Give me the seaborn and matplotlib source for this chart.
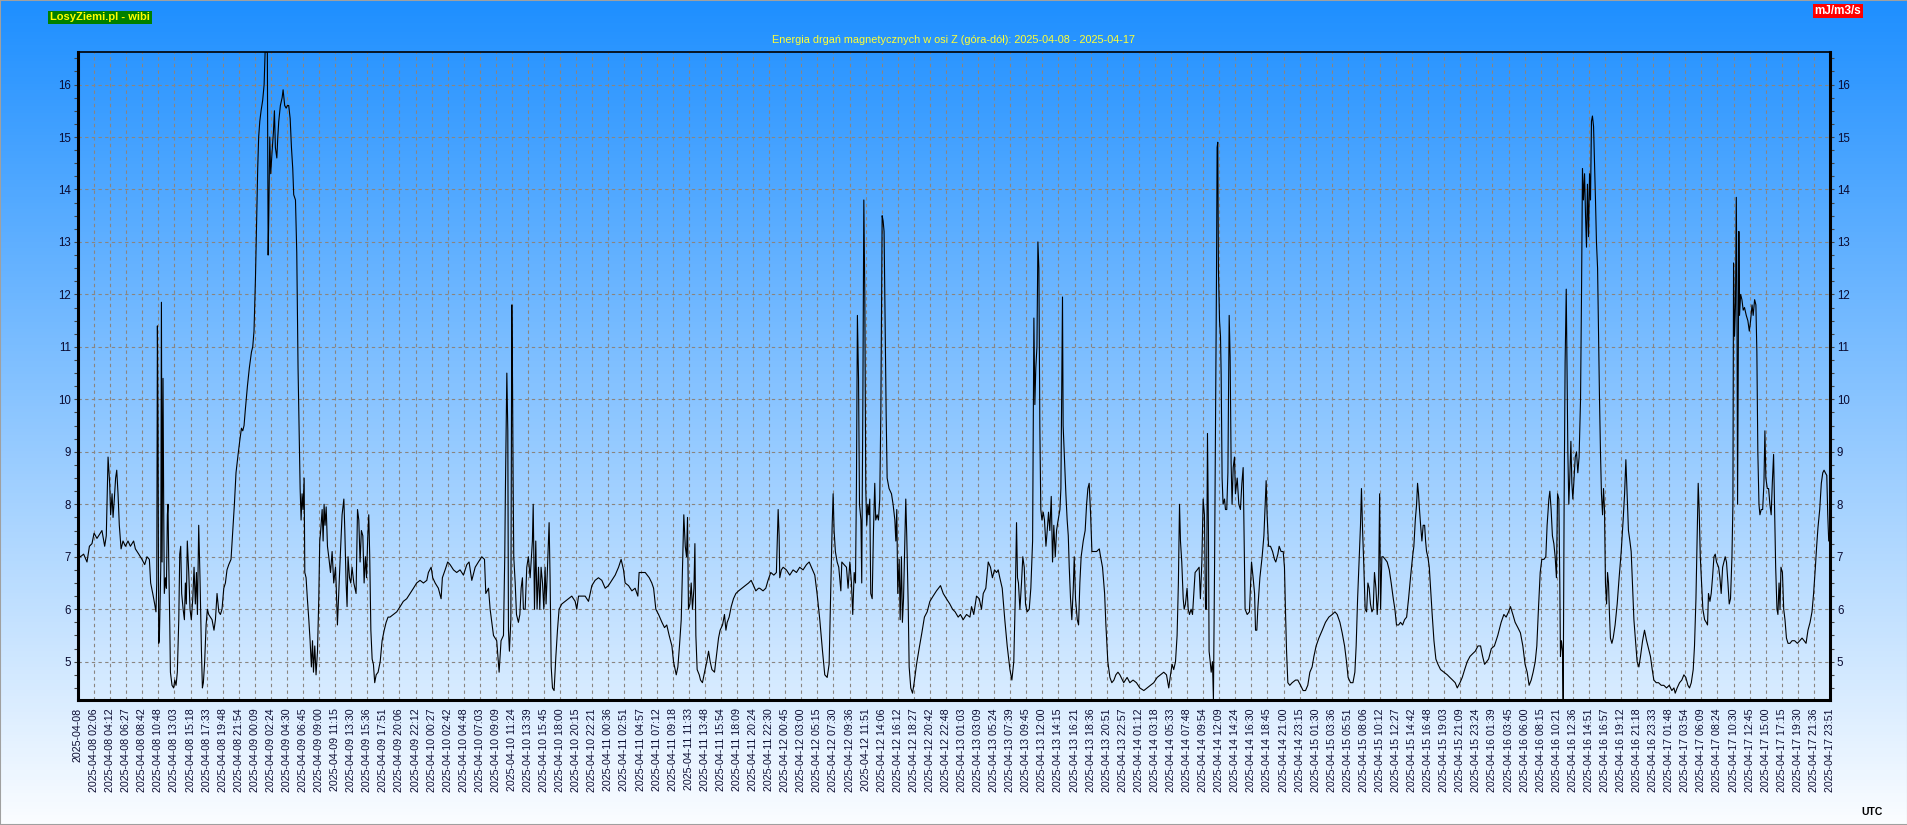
import numpy as np
import pandas as pd
import seaborn as sns
import matplotlib
matplotlib.use("Agg")
import matplotlib.pyplot as plt
from matplotlib.ticker import MultipleLocator
from matplotlib.colors import LinearSegmentedColormap
from matplotlib.patches import Rectangle

# x = position in label slots (one slot = one date label on the axis), y = energy [mJ/m3/s]
apr08_09 = [
    (0, 7.05), (0.15, 7.0), (0.35, 7.05), (0.56, 6.9), (0.71, 7.2), (0.87, 7.25), (1.0, 7.45), (1.18, 7.35),
    (1.39, 7.45), (1.49, 7.5), (1.66, 7.2), (1.76, 7.4), (1.87, 8.9), (1.97, 8.4), (2.03, 7.8), (2.12, 8.2),
    (2.18, 7.75), (2.26, 8.1), (2.34, 8.5), (2.41, 8.65), (2.49, 8.2), (2.57, 7.6), (2.68, 7.15), (2.80, 7.3),
    (2.95, 7.2), (3.11, 7.3), (3.26, 7.2), (3.46, 7.3), (3.57, 7.15), (3.78, 7.05), (3.98, 6.95), (4.15, 6.85),
    (4.29, 7.0), (4.44, 6.95), (4.52, 6.5), (4.65, 6.3), (4.77, 6.1), (4.85, 5.95), (4.90, 6.5), (4.94, 11.4),
    (4.98, 9.4), (5.02, 5.35), (5.06, 5.4), (5.15, 6.8), (5.19, 11.85), (5.23, 6.9), (5.29, 10.4), (5.33, 8.0),
    (5.37, 6.3), (5.44, 6.6), (5.50, 6.4), (5.56, 7.8), (5.60, 8.0), (5.64, 7.0), (5.71, 5.7), (5.75, 4.8),
    (5.85, 4.55), (5.95, 4.5), (6.02, 4.65), (6.10, 4.55), (6.18, 4.8), (6.27, 5.8), (6.33, 7.05), (6.39, 7.2),
    (6.45, 6.3), (6.54, 6.0), (6.62, 5.8), (6.68, 6.5), (6.74, 6.1), (6.80, 7.3), (6.89, 6.7), (6.97, 6.0),
    (7.05, 5.8), (7.14, 6.2), (7.22, 6.8), (7.30, 6.1), (7.37, 6.7), (7.43, 5.9), (7.51, 7.6), (7.59, 6.6),
    (7.68, 5.2), (7.74, 4.5), (7.80, 4.6), (7.88, 5.0), (7.97, 5.7), (8.05, 6.0), (8.13, 5.9), (8.34, 5.8),
    (8.46, 5.6), (8.55, 5.8), (8.65, 6.3), (8.76, 5.95), (8.86, 5.9), (8.96, 6.0), (9.07, 6.4), (9.17, 6.5),
    (9.27, 6.75), (9.38, 6.85), (9.52, 6.95), (9.63, 7.5), (9.73, 8.0), (9.83, 8.6), (9.96, 8.95), (10.08, 9.25),
    (10.17, 9.45), (10.25, 9.4), (10.33, 9.5), (10.41, 9.8), (10.54, 10.25), (10.66, 10.6), (10.79, 10.9),
    (10.87, 11.0), (10.95, 11.3), (11.04, 12.3), (11.12, 13.5), (11.18, 14.4), (11.24, 15.0), (11.31, 15.3),
    (11.39, 15.5), (11.49, 15.7), (11.58, 16.0), (11.64, 16.62), (11.72, 16.62), (11.78, 16.62), (11.83, 12.75),
    (11.87, 13.5), (11.93, 15.0), (11.99, 14.3), (12.07, 14.7), (12.16, 15.1), (12.22, 15.5), (12.28, 14.8),
    (12.37, 14.6), (12.43, 15.0), (12.49, 15.3), (12.59, 15.6), (12.70, 15.75), (12.76, 15.9), (12.86, 15.6),
    (12.95, 15.55), (13.03, 15.6), (13.11, 15.6), (13.20, 15.35), (13.28, 14.8), (13.36, 14.4), (13.42, 13.9),
    (13.53, 13.8), (13.61, 12.8), (13.65, 11.7), (13.69, 10.6), (13.76, 9.4), (13.82, 8.3), (13.88, 7.7),
    (13.94, 8.2), (14.00, 7.9), (14.07, 8.5), (14.11, 6.7), (14.19, 6.6), (14.27, 6.2), (14.36, 5.8),
    (14.44, 5.4), (14.52, 4.9), (14.59, 5.4), (14.65, 4.8), (14.73, 5.3), (14.81, 4.75), (14.90, 5.2),
    (14.98, 6.2), (15.04, 7.3), (15.10, 7.5), (15.19, 7.9), (15.25, 7.3), (15.31, 8.0), (15.37, 7.6),
    (15.44, 7.95), (15.52, 7.2), (15.60, 7.0), (15.71, 6.7), (15.81, 7.1), (15.91, 6.5), (16.02, 6.8),
    (16.08, 6.3), (16.14, 5.7), (16.22, 6.3), (16.33, 7.1), (16.43, 7.8), (16.54, 8.1), (16.60, 7.5),
    (16.68, 6.5), (16.74, 6.05), (16.80, 7.0), (16.89, 6.6), (16.97, 6.5), (17.05, 6.8), (17.16, 6.5),
    (17.30, 6.3), (17.39, 7.9), (17.47, 7.7), (17.55, 6.9), (17.63, 7.5), (17.72, 7.4), (17.80, 6.5),
    (17.88, 7.0), (17.95, 6.6), (18.03, 7.4), (18.09, 7.8), (18.15, 7.0), (18.22, 5.6), (18.30, 5.05),
    (18.38, 4.95), (18.46, 4.6), (18.55, 4.75), (18.67, 4.8), (18.80, 5.0), (18.92, 5.4), (19.05, 5.6),
    (19.17, 5.75), (19.29, 5.85),
]

apr09_11 = [
    (19.41, 5.85), (19.62, 5.9), (19.83, 5.95), (20.04, 6.05), (20.24, 6.15), (20.45, 6.2), (20.66, 6.3),
    (20.87, 6.4), (21.07, 6.5), (21.28, 6.55), (21.49, 6.5), (21.70, 6.55), (21.80, 6.7), (21.97, 6.8),
    (22.07, 6.6), (22.22, 6.5), (22.42, 6.4), (22.59, 6.2), (22.67, 6.6), (22.84, 6.75), (23.00, 6.9),
    (23.15, 6.85), (23.36, 6.75), (23.56, 6.7), (23.77, 6.75), (23.98, 6.65), (24.19, 6.85), (24.33, 6.9),
    (24.50, 6.55), (24.71, 6.8), (24.91, 6.9), (25.12, 7.0), (25.29, 6.95), (25.37, 6.3), (25.54, 6.4),
    (25.64, 6.0), (25.85, 5.5), (26.05, 5.4), (26.20, 4.8), (26.32, 5.4), (26.47, 5.5), (26.55, 7.0),
    (26.59, 8.25), (26.68, 10.5), (26.74, 9.4), (26.78, 5.6), (26.84, 5.2), (26.93, 5.8), (26.99, 11.8),
    (27.03, 10.5), (27.07, 8.5), (27.11, 7.0), (27.20, 6.5), (27.28, 5.9), (27.40, 5.75), (27.49, 5.9),
    (27.57, 6.4), (27.65, 6.6), (27.71, 6.0), (27.82, 6.0), (27.92, 6.8), (28.02, 7.0), (28.13, 6.6),
    (28.27, 7.3), (28.32, 8.0), (28.40, 6.0), (28.48, 7.3), (28.56, 6.0), (28.65, 6.8), (28.73, 6.0),
    (28.81, 6.8), (28.90, 6.5), (28.98, 6.0), (29.06, 6.8), (29.12, 6.1), (29.21, 6.8), (29.31, 7.65),
    (29.37, 6.6), (29.44, 4.9), (29.52, 4.5), (29.62, 4.45), (29.73, 5.1), (29.83, 5.6), (29.93, 6.0),
    (30.10, 6.1), (30.31, 6.15), (30.51, 6.2), (30.72, 6.25), (30.93, 6.15), (31.03, 6.0), (31.14, 6.25),
    (31.34, 6.25), (31.55, 6.25), (31.76, 6.15), (31.97, 6.45), (32.17, 6.55), (32.38, 6.6), (32.59, 6.55),
    (32.80, 6.4), (33.00, 6.45), (33.21, 6.55), (33.42, 6.65), (33.63, 6.8), (33.79, 6.95), (33.94, 6.75),
    (34.04, 6.5), (34.25, 6.45), (34.46, 6.35), (34.66, 6.4), (34.83, 6.25), (34.91, 6.7), (35.08, 6.7),
    (35.29, 6.7), (35.54, 6.6), (35.70, 6.5), (35.81, 6.4), (35.95, 6.0), (36.12, 5.9), (36.33, 5.75),
    (36.49, 5.65), (36.63, 5.7), (36.78, 5.5), (36.95, 5.3), (37.05, 5.0), (37.22, 4.75), (37.32, 4.9),
    (37.42, 5.3), (37.53, 5.8), (37.61, 6.8), (37.69, 7.8), (37.78, 7.2), (37.86, 7.0), (37.92, 7.75),
    (37.98, 6.0), (38.07, 6.1), (38.15, 6.5), (38.23, 6.0), (38.32, 6.4), (38.38, 7.25), (38.44, 5.5),
    (38.52, 4.85), (38.65, 4.75), (38.73, 4.65), (38.85, 4.6), (38.98, 4.8), (39.12, 5.0), (39.23, 5.2),
    (39.33, 5.0), (39.44, 4.85), (39.60, 4.8), (39.75, 5.2), (39.85, 5.45), (39.95, 5.6), (40.10, 5.7),
    (40.22, 5.9), (40.31, 5.6), (40.39, 5.75), (40.51, 5.85), (40.64, 6.05), (40.78, 6.2), (40.93, 6.3),
    (41.10, 6.35), (41.30, 6.4), (41.51, 6.45), (41.72, 6.5), (41.88, 6.55), (42.03, 6.45), (42.17, 6.35),
    (42.34, 6.4),
]

apr11_13 = [
    (42.41, 6.4), (42.62, 6.35), (42.79, 6.4), (42.93, 6.55), (43.10, 6.7), (43.29, 6.65), (43.45, 6.7),
    (43.56, 7.9), (43.62, 7.4), (43.66, 6.6), (43.76, 6.75), (43.87, 6.8), (44.07, 6.75), (44.28, 6.65),
    (44.49, 6.75), (44.70, 6.7), (44.90, 6.8), (45.11, 6.75), (45.32, 6.85), (45.49, 6.9), (45.63, 6.8),
    (45.84, 6.65), (45.98, 6.3), (46.15, 5.8), (46.32, 5.2), (46.46, 4.75), (46.61, 4.7), (46.73, 4.95),
    (46.83, 6.3), (46.92, 7.6), (46.98, 8.2), (47.04, 7.5), (47.12, 7.1), (47.23, 6.9), (47.33, 6.8),
    (47.46, 6.35), (47.52, 6.9), (47.66, 6.85), (47.81, 6.8), (47.91, 6.4), (48.02, 6.9), (48.12, 6.5),
    (48.20, 5.9), (48.29, 6.7), (48.37, 6.5), (48.43, 8.35), (48.49, 11.6), (48.56, 10.4), (48.62, 8.0),
    (48.71, 7.7), (48.76, 6.5), (48.83, 10.0), (48.89, 13.8), (48.95, 12.0), (49.01, 8.3), (49.07, 7.6),
    (49.14, 8.0), (49.20, 7.8), (49.26, 8.1), (49.32, 6.3), (49.41, 6.2), (49.49, 7.5), (49.57, 8.4),
    (49.63, 7.7), (49.72, 7.8), (49.80, 7.7), (49.88, 8.1), (49.95, 9.8), (50.03, 13.5), (50.09, 13.4),
    (50.15, 13.2), (50.22, 11.4), (50.28, 9.7), (50.34, 8.5), (50.46, 8.3), (50.61, 8.2), (50.71, 8.0),
    (50.82, 7.7), (50.88, 7.3), (50.94, 7.9), (51.00, 6.3), (51.09, 6.95), (51.15, 5.8), (51.23, 7.0),
    (51.29, 5.75), (51.36, 6.2), (51.50, 8.1), (51.56, 7.4), (51.65, 6.1), (51.71, 4.9), (51.81, 4.5),
    (51.92, 4.4), (52.02, 4.6), (52.17, 4.95), (52.33, 5.25), (52.50, 5.55), (52.66, 5.85), (52.83, 5.95),
    (53.00, 6.15), (53.20, 6.25), (53.41, 6.35), (53.66, 6.45), (53.83, 6.3), (54.03, 6.2), (54.24, 6.1),
    (54.41, 6.0), (54.57, 5.95), (54.76, 5.85), (54.90, 5.9), (55.07, 5.8), (55.28, 5.9), (55.49, 5.85),
    (55.59, 6.05), (55.73, 5.9), (55.90, 6.25), (56.07, 6.2), (56.21, 6.0), (56.32, 6.3), (56.48, 6.4),
    (56.63, 6.9), (56.77, 6.8), (56.89, 6.6), (57.02, 6.75), (57.15, 6.7), (57.25, 6.75), (57.35, 6.6),
    (57.50, 6.4), (57.66, 5.8), (57.81, 5.3), (57.98, 4.85), (58.10, 4.65), (58.22, 5.0), (58.31, 6.2),
    (58.39, 7.65), (58.45, 6.6), (58.51, 6.5), (58.60, 6.0), (58.70, 6.5), (58.78, 7.0), (58.87, 6.8),
    (58.95, 6.1), (59.05, 5.95), (59.18, 6.0), (59.28, 6.4), (59.39, 7.3), (59.47, 11.55), (59.53, 9.9),
    (59.59, 10.6), (59.66, 11.0), (59.72, 13.0), (59.78, 12.5), (59.84, 9.5), (59.90, 7.9), (59.97, 7.7),
    (60.05, 7.85), (60.13, 7.7), (60.22, 7.2), (60.30, 7.5), (60.38, 7.85), (60.46, 7.5), (60.55, 8.15),
    (60.63, 6.9), (60.71, 7.6), (60.80, 7.0), (60.88, 7.5), (60.98, 7.7), (61.09, 7.9), (61.15, 8.3),
    (61.25, 11.95), (61.29, 9.5), (61.38, 8.8), (61.46, 8.2), (61.54, 7.7), (61.61, 7.4), (61.67, 6.8),
    (61.75, 6.2), (61.83, 5.8), (61.92, 6.4), (61.98, 7.0), (62.06, 6.2), (62.17, 5.8), (62.25, 5.7),
    (62.33, 6.5), (62.41, 7.0), (62.54, 7.3), (62.66, 7.5), (62.75, 8.0), (62.83, 8.3), (62.91, 8.4),
    (63.00, 7.8), (63.08, 7.1), (63.20, 7.1), (63.37, 7.1), (63.54, 7.15), (63.62, 7.0), (63.74, 6.8),
    (63.87, 6.3), (63.95, 5.7), (64.07, 5.0), (64.20, 4.7), (64.32, 4.6), (64.45, 4.65), (64.57, 4.75),
    (64.70, 4.8), (64.82, 4.75),
]

apr13_16 = [
    (65.06, 4.6), (65.27, 4.7), (65.44, 4.6), (65.64, 4.65), (65.85, 4.6), (66.06, 4.5), (66.31, 4.45),
    (66.51, 4.5), (66.72, 4.55), (66.93, 4.6), (67.14, 4.7), (67.34, 4.75), (67.55, 4.8), (67.72, 4.75),
    (67.86, 4.5), (67.97, 4.75), (68.07, 4.95), (68.17, 4.85), (68.28, 5.0), (68.38, 5.5), (68.46, 6.5),
    (68.53, 8.0), (68.59, 7.3), (68.67, 6.9), (68.76, 6.2), (68.82, 6.0), (68.90, 6.1), (69.00, 6.4),
    (69.07, 6.0), (69.15, 5.9), (69.25, 6.0), (69.34, 5.9), (69.42, 6.3), (69.50, 6.7), (69.63, 6.75),
    (69.75, 6.8), (69.83, 6.2), (69.92, 6.9), (70.00, 8.1), (70.08, 7.8), (70.15, 6.0), (70.21, 6.0),
    (70.27, 9.35), (70.33, 7.5), (70.37, 5.2), (70.44, 5.0), (70.50, 4.8), (70.58, 5.0), (70.64, 4.27),
    (70.71, 6.8), (70.77, 9.5), (70.83, 12.3), (70.87, 14.8), (70.91, 14.9), (70.95, 12.5), (71.02, 11.5),
    (71.08, 11.2), (71.12, 10.5), (71.18, 8.5), (71.24, 8.0), (71.33, 8.1), (71.39, 7.9), (71.47, 7.9),
    (71.54, 8.6), (71.62, 11.6), (71.68, 10.8), (71.74, 8.8), (71.80, 8.0), (71.87, 8.7), (71.95, 8.9),
    (72.01, 8.2), (72.12, 8.5), (72.22, 8.0), (72.32, 7.9), (72.41, 8.4), (72.49, 8.7), (72.55, 7.3),
    (72.61, 6.0), (72.74, 5.9), (72.88, 5.95), (73.01, 6.9), (73.11, 6.6), (73.20, 6.3), (73.26, 5.6),
    (73.34, 5.6), (73.40, 6.0), (73.53, 6.6), (73.67, 7.0), (73.78, 7.4), (73.86, 8.0), (73.92, 8.45),
    (73.98, 7.8), (74.07, 7.2), (74.19, 7.2), (74.32, 7.1), (74.44, 6.95), (74.52, 6.9), (74.65, 7.05),
    (74.73, 7.2), (74.85, 7.1), (74.98, 7.1), (75.06, 6.8), (75.12, 6.0), (75.19, 5.2), (75.27, 4.6),
    (75.39, 4.55), (75.54, 4.6), (75.75, 4.65), (75.89, 4.65), (76.06, 4.55), (76.22, 4.45), (76.37, 4.45),
    (76.51, 4.55), (76.64, 4.8), (76.78, 4.9), (76.89, 5.1), (77.03, 5.3), (77.20, 5.45), (77.41, 5.6),
    (77.61, 5.75), (77.82, 5.85), (78.03, 5.9), (78.20, 5.95), (78.34, 5.9), (78.51, 5.75), (78.65, 5.55),
    (78.80, 5.3), (78.92, 5.0), (79.02, 4.7), (79.17, 4.6), (79.32, 4.6), (79.44, 4.8), (79.52, 5.3),
    (79.61, 6.2), (79.71, 7.0), (79.79, 7.6), (79.85, 8.3), (79.92, 7.5), (80.00, 6.8), (80.08, 6.0),
    (80.17, 5.95), (80.25, 6.5), (80.33, 6.4), (80.41, 6.1), (80.50, 5.95), (80.58, 6.0), (80.66, 6.7),
    (80.75, 6.4), (80.83, 5.9), (80.91, 6.3), (80.98, 8.2), (81.04, 6.0), (81.12, 7.0), (81.20, 7.0),
    (81.33, 6.95), (81.45, 6.9), (81.58, 6.75), (81.70, 6.5), (81.83, 6.2), (81.93, 6.0), (82.03, 5.7),
    (82.16, 5.7), (82.28, 5.75), (82.41, 5.7), (82.53, 5.8), (82.66, 5.85), (82.78, 6.2), (82.90, 6.6),
    (83.03, 7.0), (83.11, 7.2), (83.20, 7.7), (83.28, 8.0), (83.34, 8.4), (83.40, 8.2), (83.46, 7.9),
    (83.53, 7.6), (83.61, 7.3), (83.69, 7.6), (83.78, 7.6), (83.84, 7.3), (83.90, 7.1), (83.98, 7.0),
    (84.07, 6.8), (84.15, 6.4), (84.25, 5.9), (84.36, 5.4), (84.48, 5.05), (84.61, 4.95), (84.77, 4.85),
    (84.98, 4.8), (85.19, 4.75), (85.35, 4.7), (85.52, 4.65), (85.68, 4.6), (85.81, 4.5), (85.98, 4.6),
    (86.12, 4.7), (86.27, 4.85), (86.43, 5.0), (86.60, 5.1), (86.76, 5.15), (86.93, 5.2), (87.10, 5.3),
    (87.26, 5.3), (87.39, 5.1), (87.51, 4.95), (87.64, 5.0), (87.76, 5.05), (87.93, 5.25),
]

apr16_17 = [
    (88.12, 5.3), (88.33, 5.5), (88.54, 5.75), (88.71, 5.9), (88.85, 5.85), (89.00, 5.95), (89.12, 6.05),
    (89.27, 5.9), (89.41, 5.75), (89.58, 5.65), (89.74, 5.55), (89.89, 5.3), (90.03, 4.95), (90.16, 4.8),
    (90.28, 4.55), (90.41, 4.65), (90.53, 4.8), (90.66, 5.0), (90.76, 5.3), (90.86, 6.0), (90.97, 6.7),
    (91.07, 6.95), (91.20, 6.95), (91.32, 7.0), (91.40, 7.6), (91.51, 8.1), (91.57, 8.25), (91.65, 7.9),
    (91.73, 7.4), (91.82, 7.25), (91.90, 7.0), (91.98, 6.6), (92.05, 8.2), (92.13, 8.1), (92.19, 6.5),
    (92.23, 5.1), (92.29, 5.4), (92.36, 5.2), (92.40, 4.27), (92.46, 8.1), (92.52, 10.7), (92.59, 12.1),
    (92.63, 10.9), (92.69, 9.0), (92.75, 8.0), (92.81, 8.5), (92.88, 9.2), (92.94, 8.4), (93.00, 8.1),
    (93.06, 8.4), (93.15, 8.9), (93.23, 9.0), (93.31, 8.6), (93.39, 8.9), (93.48, 10.0), (93.54, 12.0),
    (93.60, 14.4), (93.66, 13.8), (93.73, 14.3), (93.79, 13.5), (93.85, 12.9), (93.91, 14.1), (93.98, 13.1),
    (94.04, 14.3), (94.10, 13.8), (94.16, 15.3), (94.22, 15.4), (94.29, 15.2), (94.35, 14.5), (94.41, 13.8),
    (94.47, 13.0), (94.54, 12.5), (94.60, 11.2), (94.66, 10.0), (94.72, 9.0), (94.78, 8.2), (94.85, 7.8),
    (94.91, 8.3), (94.97, 7.9), (95.03, 6.5), (95.10, 6.1), (95.16, 6.7), (95.22, 6.5), (95.28, 5.9),
    (95.34, 5.45), (95.43, 5.35), (95.51, 5.45), (95.63, 5.7), (95.76, 6.1), (95.88, 6.6), (96.01, 7.1),
    (96.13, 7.7), (96.22, 8.2), (96.30, 8.85), (96.38, 8.2), (96.46, 7.5), (96.55, 7.3), (96.63, 7.1),
    (96.71, 6.5), (96.80, 5.8), (96.90, 5.4), (97.00, 5.0), (97.11, 4.9), (97.21, 5.1), (97.34, 5.4),
    (97.46, 5.6), (97.59, 5.4), (97.71, 5.25), (97.83, 5.1), (97.94, 4.85), (98.04, 4.65), (98.19, 4.6),
    (98.33, 4.6), (98.50, 4.55), (98.66, 4.55), (98.83, 4.5), (99.00, 4.55), (99.16, 4.45), (99.29, 4.5),
    (99.37, 4.4), (99.49, 4.5), (99.64, 4.6), (99.78, 4.65), (99.91, 4.75), (100.03, 4.7), (100.16, 4.55),
    (100.26, 4.5), (100.37, 4.6), (100.49, 4.85), (100.57, 5.3), (100.66, 6.2), (100.74, 7.5), (100.80, 8.4),
    (100.86, 7.9), (100.93, 7.0), (101.01, 6.5), (101.09, 6.0), (101.20, 5.8), (101.30, 5.75), (101.38, 5.7),
    (101.44, 6.3), (101.53, 6.15), (101.61, 6.3), (101.69, 6.6), (101.78, 7.0), (101.86, 7.05), (101.94, 6.9),
    (102.07, 6.8), (102.15, 6.6), (102.23, 6.3), (102.32, 6.8), (102.40, 6.9), (102.48, 7.0), (102.56, 6.9),
    (102.65, 6.5), (102.73, 6.1), (102.81, 6.2), (102.90, 7.0), (102.96, 8.0), (103.00, 12.6), (103.06, 11.2),
    (103.12, 11.8), (103.17, 13.85), (103.21, 12.0), (103.25, 8.0), (103.29, 10.5), (103.33, 13.2),
    (103.37, 11.6), (103.44, 12.0), (103.52, 11.9), (103.60, 11.7), (103.68, 11.75), (103.79, 11.6),
    (103.89, 11.5), (103.98, 11.3), (104.06, 11.5), (104.15, 11.8), (104.22, 11.6), (104.31, 11.9),
    (104.39, 11.8), (104.45, 10.9), (104.51, 9.0), (104.58, 8.0), (104.64, 7.8), (104.72, 7.9), (104.81, 7.9),
    (104.89, 8.4), (104.95, 9.4), (105.01, 8.5), (105.10, 8.3), (105.18, 8.3), (105.26, 8.0), (105.34, 7.8),
    (105.41, 8.4), (105.49, 8.95), (105.56, 7.8), (105.62, 6.8), (105.70, 6.0), (105.76, 5.9), (105.83, 6.5),
    (105.89, 6.0), (105.95, 6.8), (106.04, 6.7), (106.12, 6.0), (106.20, 5.8), (106.29, 5.45), (106.39, 5.35),
    (106.51, 5.35), (106.64, 5.4), (106.80, 5.4), (106.97, 5.35), (107.12, 5.4), (107.26, 5.45), (107.39, 5.4),
    (107.51, 5.35), (107.63, 5.6), (107.76, 5.75), (107.88, 5.95), (107.98, 6.3), (108.09, 6.8), (108.17, 7.2),
    (108.25, 7.55), (108.36, 7.9), (108.46, 8.4), (108.55, 8.6), (108.63, 8.65), (108.71, 8.6), (108.80, 8.55),
    (108.86, 7.8), (108.92, 7.3), (109.00, 7.35),
]

# date labels under the x axis (one per slot)
tick_days = ["2025-04-08", "2025-04-09", "2025-04-10", "2025-04-11", "2025-04-12",
             "2025-04-13", "2025-04-14", "2025-04-15", "2025-04-16", "2025-04-17"]
tick_times = [
    ["", "02:06", "04:12", "06:27", "08:42", "10:48", "13:03", "15:18", "17:33", "19:48", "21:54"],
    ["00:09", "02:24", "04:30", "06:45", "09:00", "11:15", "13:30", "15:36", "17:51", "20:06", "22:12"],
    ["00:27", "02:42", "04:48", "07:03", "09:09", "11:24", "13:39", "15:45", "18:00", "20:15", "22:21"],
    ["00:36", "02:51", "04:57", "07:12", "09:18", "11:33", "13:48", "15:54", "18:09", "20:24", "22:30"],
    ["00:45", "03:00", "05:15", "07:30", "09:36", "11:51", "14:06", "16:12", "18:27", "20:42", "22:48"],
    ["01:03", "03:09", "05:24", "07:39", "09:45", "12:00", "14:15", "16:21", "18:36", "20:51", "22:57"],
    ["01:12", "03:18", "05:33", "07:48", "09:54", "12:09", "14:24", "16:30", "18:45", "21:00", "23:15"],
    ["01:30", "03:36", "05:51", "08:06", "10:12", "12:27", "14:42", "16:48", "19:03", "21:09", "23:24"],
    ["01:39", "03:45", "06:00", "08:15", "10:21", "12:36", "14:51", "16:57", "19:12", "21:18", "23:33"],
    ["01:48", "03:54", "06:09", "08:24", "10:30", "12:45", "15:00", "17:15", "19:30", "21:36", "23:51"],
]

labels = []
for day, times in zip(tick_days, tick_times):
    for t in times:
        labels.append(day if t == "" else day + " " + t)

df = pd.DataFrame(apr08_09 + apr09_11 + apr11_13 + apr13_16 + apr16_17, columns=["slot", "energia"])

sns.set_style("white")
plt.rcParams["font.family"] = ["Liberation Sans", "DejaVu Sans"]

W, H = 1908, 825
fig = plt.figure(figsize=(W / 100, H / 100), dpi=100)

# gradient background over the whole picture
bg = fig.add_axes([0, 0, 1, 1], zorder=-10)
grad = np.linspace(0, 1, 256).reshape(-1, 1)
cmap = LinearSegmentedColormap.from_list("tlo", ["#1e8fff", "#fbfdff"])
bg.imshow(grad, aspect="auto", cmap=cmap, extent=[0, 1, 0, 1], origin="upper")
bg.axis("off")

ax = fig.add_axes([78 / W, 125 / H, 1752 / W, 648 / H])
ax.patch.set_alpha(0)

sns.lineplot(data=df, x="slot", y="energia", ax=ax, color="black", lw=0.8,
             estimator=None, sort=False)

ax.set_xlim(0, 109)
ax.set_ylim(4.27, 16.62)
ax.set_xlabel("")
ax.set_ylabel("")

lab_col = "#0a0a30"
ax.set_xticks(np.arange(len(labels)))
ax.set_xticklabels(labels, rotation=90, va="top", ha="center", fontsize=7.7, color=lab_col)
ax.xaxis.set_minor_locator(MultipleLocator(0.25))
ax.set_yticks(range(5, 17))
ax.yaxis.set_minor_locator(MultipleLocator(0.25))
ax.tick_params(axis="x", which="major", length=3, width=0.8, pad=3, color="#444444")
ax.tick_params(axis="x", which="minor", length=2, width=0.6, color="#444444")
ax.tick_params(axis="y", which="both", left=True, right=True, labelleft=True, labelright=True,
               length=3, width=0.8, pad=2, labelsize=8.3, labelcolor=lab_col, color="#444444")

ax.grid(True, which="major", color="#8a8580", linestyle=(0, (3, 3)), lw=0.8)

for side in ["left", "right", "bottom"]:
    ax.spines[side].set_linewidth(2.2)
    ax.spines[side].set_color("black")
ax.spines["top"].set_linewidth(1.2)
ax.spines["top"].set_color("black")

fig.text(0.5, 1 - 40 / H, "Energia drgań magnetycznych w osi Z (góra-dół): 2025-04-08 - 2025-04-17",
         ha="center", va="center", fontsize=7.8, color="#ffff33")
fig.text(50 / W, 1 - 17.5 / H, "LosyZiemi.pl - wibi", ha="left", va="center", fontsize=8,
         fontweight="bold", color="#ffff00",
         bbox=dict(boxstyle="square,pad=0.15", facecolor="#008000", edgecolor="none"))
fig.text(1838 / W, 1 - 11 / H, "mJ/m3/s", ha="center", va="center", fontsize=8.5,
         fontweight="bold", color="white",
         bbox=dict(boxstyle="square,pad=0.1", facecolor="#ff0000", edgecolor="none"))
fig.text(1872 / W, 1 - 812 / H, "UTC", ha="center", va="center", fontsize=7.5,
         fontweight="bold", color="black")

fig.patches.append(Rectangle((0, 0), 1, 1, transform=fig.transFigure, fill=False,
                             edgecolor="#a0a0a0", lw=1.5))

fig.savefig("out.png", dpi=100)
